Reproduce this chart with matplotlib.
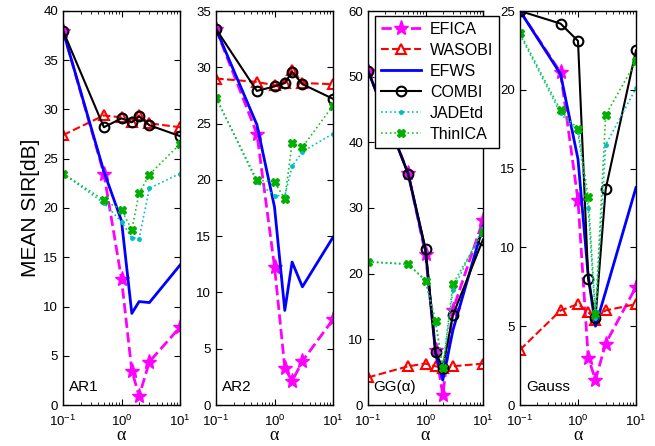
import matplotlib
matplotlib.use('Agg')
import matplotlib.pyplot as plt
from matplotlib.ticker import LogLocator, MultipleLocator

plt.rcParams['font.family'] = ['Liberation Sans', 'DejaVu Sans']
plt.rcParams['mathtext.fontset'] = 'custom'
plt.rcParams['mathtext.rm'] = 'Liberation Sans'
plt.rcParams['mathtext.it'] = 'Liberation Sans:italic'

# shape parameter of the sources
alpha = [0.1, 0.5, 1, 1.5, 2, 3, 10]

methods = ['EFICA', 'WASOBI', 'EFWS', 'COMBI', 'JADEtd', 'ThinICA']
panels = ['AR1', 'AR2', 'GG(α)', 'Gauss']

# mean SIR [dB] per method, one list per panel
efica = [
    [38.0, 23.5, 12.8, 3.5, 0.9, 4.4, 7.9],
    [33.4, 24.1, 12.3, 3.3, 2.1, 3.9, 7.6],
    [50.9, 35.3, 23.0, 8.3, 1.5, 14.5, 28.1],
    [25.0, 21.1, 13.0, 3.0, 1.6, 3.9, 7.5],
]
wasobi = [
    [27.4, 29.4, 29.2, 28.7, 29.4, 28.6, 28.2],
    [29.0, 28.7, 28.4, 28.6, 29.8, 28.6, 28.5],
    [4.2, 5.9, 6.3, 5.9, 5.6, 5.9, 6.3],
    [3.5, 6.0, 6.4, 5.9, 5.4, 6.0, 6.4],
]
efws = [
    [38.0, 23.7, 18.7, 9.3, 10.5, 10.4, 14.2],
    [33.4, 24.9, 17.6, 8.4, 12.7, 10.5, 14.9],
    [50.9, 35.2, 23.5, 7.8, 3.8, 11.4, 27.2],
    [25.0, 21.0, 15.6, 8.2, 5.0, 7.2, 13.8],
]
combi = [
    [38.0, 28.2, 29.1, 28.7, 29.3, 28.4, 27.3],
    [33.4, 27.9, 28.3, 28.6, 29.6, 28.5, 27.2],
    [50.9, 35.2, 23.8, 8.0, 5.7, 13.7, 25.2],
    [25.0, 24.2, 23.1, 8.0, 5.5, 13.7, 22.5],
]
jadetd = [
    [23.5, 20.5, 18.6, 17.0, 16.9, 22.0, 23.5],
    [27.3, 19.8, 18.6, 18.6, 21.2, 22.5, 24.1],
    [21.8, 21.4, 19.0, 12.5, 5.5, 17.5, 27.0],
    [23.5, 18.5, 17.3, 12.5, 5.5, 16.5, 20.1],
]
thinica = [
    [23.5, 20.8, 19.8, 17.8, 21.5, 23.4, 26.5],
    [27.3, 20.0, 19.8, 18.3, 23.3, 22.9, 26.6],
    [21.8, 21.5, 18.9, 12.8, 5.7, 18.4, 26.4],
    [23.6, 18.7, 17.5, 13.2, 5.8, 18.4, 21.8],
]

ymax = [40, 35, 60, 25]
ystep = [5, 5, 10, 5]

styles = [
    dict(color='magenta', ls='--', lw=2, marker='*', ms=11, mfc='magenta', mec='magenta'),
    dict(color='red', ls='--', lw=1.5, marker='^', ms=7, mfc='none', mec='red', mew=1.5),
    dict(color='blue', ls='-', lw=2),
    dict(color='black', ls='-', lw=1.5, marker='o', ms=7, mfc='none', mec='black', mew=1.5),
    dict(color='#00c0c0', ls=':', lw=1.2, marker='.', ms=5),
    dict(color='#20c020', ls=':', lw=1.2, marker='X', ms=6, mfc='#00b000', mec='#00b000'),
]

fig = plt.figure(figsize=(6.55, 4.46), dpi=100)
lefts = [63, 216, 368, 520]
widths = [117, 117, 115, 116]
bottom = 1 - 405 / 446
height = 394 / 446

handles = []
for i in range(4):
    ax = fig.add_axes([lefts[i] / 655, bottom, widths[i] / 655, height])
    series = [efica[i], wasobi[i], efws[i], combi[i], jadetd[i], thinica[i]]
    for name, vals, st in zip(methods, series, styles):
        h, = ax.plot(alpha, vals, label=name, **st)
        if i == 0:
            handles.append(h)
    ax.set_xscale('log')
    ax.set_xlim(0.1, 10)
    ax.set_ylim(0, ymax[i])
    ax.yaxis.set_major_locator(MultipleLocator(ystep[i]))
    ax.xaxis.set_major_locator(LogLocator(base=10, numticks=5))
    ax.tick_params(which='both', direction='in', top=True, right=True, labelsize=9.5)
    ax.tick_params(which='major', length=4)
    ax.tick_params(which='minor', length=2)
    ax.tick_params(axis='x', pad=6)
    for sp in ax.spines.values():
        sp.set_linewidth(1)
    ax.set_xlabel('α', fontsize=13, labelpad=-1, family='Liberation Serif')
    ax.text(0.05, 0.035, panels[i], transform=ax.transAxes, fontsize=11)
    if i == 0:
        ax.set_ylabel('MEAN SIR[dB]', fontsize=15, labelpad=2)

fig.legend(handles=handles, loc='upper left',
           bbox_to_anchor=(375 / 655, 1 - 16 / 446), fontsize=11.5,
           fancybox=False, edgecolor='black', framealpha=1, borderpad=0.35,
           borderaxespad=0, labelspacing=0.38, handlelength=2.5,
           handletextpad=0.6)

fig.savefig('out.png', dpi=100)
